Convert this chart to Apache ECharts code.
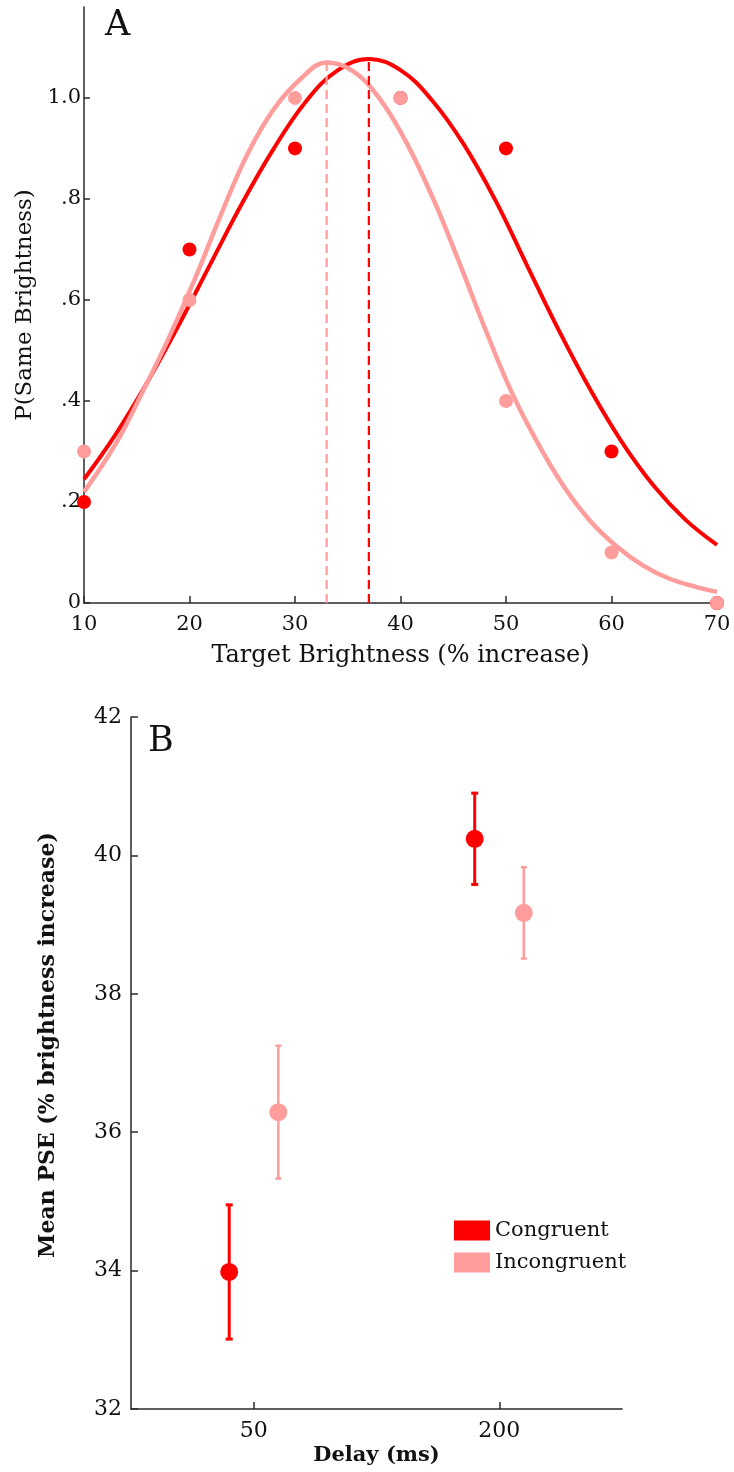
<!DOCTYPE html>
<html>
<head>
<meta charset="utf-8">
<script src="https://cdn.jsdelivr.net/npm/echarts@6/dist/echarts.min.js"></script>
<style>
  html, body { margin: 0; padding: 0; background: #fff; }
  #chart { width: 734px; height: 1472px; }
</style>
</head>
<body>
<div id="chart"></div>
<script>
// ---- Panel A: proportion of "same brightness" responses ----
const brightnessLevels = [10, 20, 30, 40, 50, 60, 70];
const congruentProp   = [0.2, 0.7, 0.9, 1.0, 0.9, 0.3, 0.0];
const incongruentProp = [0.3, 0.6, 1.0, 1.0, 0.4, 0.1, 0.0];

// fitted psychometric curves, sampled along the brightness axis (one sample on each peak)
const congruentFitX = [10, 13, 16, 19, 22, 25, 28, 31, 34, 37, 40, 43, 46, 49, 52, 55, 58, 61, 64, 67, 70];
const congruentFitY = [0.245, 0.334, 0.437, 0.551, 0.672, 0.792, 0.900, 0.992, 1.054, 1.077, 1.055, 0.995, 0.908, 0.797, 0.668, 0.540, 0.422, 0.318, 0.232, 0.165, 0.115];
const incongruentFitX = [10, 13, 15.5, 18, 20.5, 23, 25.5, 28, 30.5, 33, 35.5, 38, 40.5, 43, 45.5, 48, 50.5, 53, 55.5, 58, 60.5, 63, 65.5, 68, 70];
const incongruentFitY = [0.220, 0.315, 0.416, 0.523, 0.641, 0.770, 0.889, 0.978, 1.037, 1.070, 1.053, 0.999, 0.914, 0.805, 0.678, 0.544, 0.419, 0.317, 0.230, 0.162, 0.112, 0.074, 0.048, 0.032, 0.022];

// points of subjective equality (curve peaks)
const pseX   = [37, 33];        // congruent, incongruent
const pseTop = [1.077, 1.070];

const yTickValuesA = [0, 0.2, 0.4, 0.6, 0.8, 1.0];
const yTickLabelsA = ['0', '.2', '.4', '.6', '.8', '1.0'];

// ---- Panel B: mean PSE by delay ----
const delayLabels    = ['50', '200'];
const congruentPSE   = [33.98, 40.24];
const congruentSE    = [0.97, 0.66];
const incongruentPSE = [36.29, 39.17];
const incongruentSE  = [0.96, 0.66];

const RED = '#ff0000';
const PINK = '#ff9c9c';
const FONT = 'DejaVu Serif';
const AXIS_COLOR = '#2a2a2a';

const zip = (xs, ys) => xs.map((x, i) => [x, ys[i]]);

function errorBars(means, ses, offset) {
  return means.map((m, i) => [i + 1 + offset, m - ses[i], m + ses[i]]);
}
function meanPoints(means, offset) {
  return means.map((m, i) => [i + 1 + offset, m]);
}
function errorBarRender(color, width, capHalf) {
  return function (params, api) {
    const x = api.value(0);
    const lo = api.coord([x, api.value(1)]);
    const hi = api.coord([x, api.value(2)]);
    const style = { stroke: color, lineWidth: width };
    return {
      type: 'group',
      children: [
        { type: 'line', shape: { x1: lo[0], y1: lo[1], x2: hi[0], y2: hi[1] }, style: style },
        { type: 'line', shape: { x1: lo[0] - capHalf, y1: lo[1], x2: lo[0] + capHalf, y2: lo[1] }, style: style },
        { type: 'line', shape: { x1: hi[0] - capHalf, y1: hi[1], x2: hi[0] + capHalf, y2: hi[1] }, style: style }
      ]
    };
  };
}

const axisLine = { show: true, lineStyle: { color: AXIS_COLOR, width: 1.5 } };
const textBase = { fontFamily: FONT, color: '#111' };
const tickLine = { color: AXIS_COLOR, width: 1.5 };

const chart = echarts.init(document.getElementById('chart'), null, { renderer: 'canvas' });

chart.setOption({
  backgroundColor: '#fff',
  animation: false,
  title: [
    { text: 'A', left: 105, top: 8, padding: 0, textStyle: Object.assign({ fontSize: 35, fontWeight: 'normal' }, textBase) },
    { text: 'B', left: 148, top: 724, padding: 0, textStyle: Object.assign({ fontSize: 35, fontWeight: 'normal' }, textBase) }
  ],
  legend: {
    data: ['Congruent', 'Incongruent'],
    orient: 'vertical',
    left: 454,
    top: 1220,
    icon: 'rect',
    itemWidth: 36,
    itemHeight: 20,
    itemGap: 11,
    selectedMode: false,
    padding: 0,
    textStyle: Object.assign({ fontSize: 21 }, textBase)
  },
  grid: [
    { left: 84, right: 17, top: 7, bottom: 869 },
    { left: 131, right: 112, top: 717, bottom: 63 }
  ],
  xAxis: [
    {
      gridIndex: 0, type: 'value', min: 10, max: 70, interval: 10,
      name: 'Target Brightness (% increase)', nameLocation: 'middle', nameGap: 41,
      nameTextStyle: Object.assign({ fontSize: 24 }, textBase),
      axisLine: axisLine,
      axisTick: { inside: true, length: 7, lineStyle: tickLine },
      axisLabel: Object.assign({ margin: 11, fontSize: 21 }, textBase),
      splitLine: { show: false }
    },
    {
      gridIndex: 1, type: 'value', min: 0.5, max: 2.5,
      name: 'Delay (ms)', nameLocation: 'middle', nameGap: 36,
      nameTextStyle: Object.assign({ fontSize: 21, fontWeight: 'bold' }, textBase),
      axisLine: axisLine,
      axisTick: { inside: true, length: 7, customValues: [1, 2], lineStyle: tickLine },
      axisLabel: Object.assign({
        margin: 11, fontSize: 22, customValues: [1, 2],
        formatter: v => delayLabels[Math.round(v) - 1]
      }, textBase),
      splitLine: { show: false }
    }
  ],
  yAxis: [
    {
      gridIndex: 0, type: 'value', min: 0, max: 1.18,
      name: 'P(Same Brightness)', nameLocation: 'middle', nameGap: 44, nameRotate: 90,
      nameTextStyle: Object.assign({ fontSize: 23 }, textBase),
      axisLine: axisLine,
      axisTick: { inside: true, length: 6, customValues: yTickValuesA, lineStyle: tickLine },
      axisLabel: Object.assign({
        margin: 3, fontSize: 21, customValues: yTickValuesA,
        formatter: v => yTickLabelsA[yTickValuesA.findIndex(t => Math.abs(t - v) < 1e-6)]
      }, textBase),
      splitLine: { show: false }
    },
    {
      gridIndex: 1, type: 'value', min: 32, max: 42, interval: 2,
      name: 'Mean PSE (% brightness increase)', nameLocation: 'middle', nameGap: 72, nameRotate: 90,
      nameTextStyle: Object.assign({ fontSize: 22, fontWeight: 'bold', padding: [0, 0, 0, 36] }, textBase),
      axisLine: axisLine,
      axisTick: { inside: true, length: 7, lineStyle: tickLine },
      axisLabel: Object.assign({ margin: 9, fontSize: 22 }, textBase),
      splitLine: { show: false }
    }
  ],
  series: [
    // Panel A fitted curves
    {
      name: 'Congruent fit', type: 'line', xAxisIndex: 0, yAxisIndex: 0,
      data: zip(congruentFitX, congruentFitY), smooth: 0.4, showSymbol: false,
      lineStyle: { color: RED, width: 4 }, z: 2
    },
    {
      name: 'Incongruent fit', type: 'line', xAxisIndex: 0, yAxisIndex: 0,
      data: zip(incongruentFitX, incongruentFitY), smooth: 0.4, showSymbol: false,
      lineStyle: { color: PINK, width: 4.5 }, z: 3
    },
    // PSE markers
    {
      name: 'Congruent PSE', type: 'line', xAxisIndex: 0, yAxisIndex: 0,
      data: [[pseX[0], 0], [pseX[0], pseTop[0]]], showSymbol: false,
      lineStyle: { color: RED, width: 2.2, type: [9, 5] }, z: 4
    },
    {
      name: 'Incongruent PSE', type: 'line', xAxisIndex: 0, yAxisIndex: 0,
      data: [[pseX[1], 0], [pseX[1], pseTop[1]]], showSymbol: false,
      lineStyle: { color: PINK, width: 2.2, type: [9, 5] }, z: 4
    },
    // Panel A observed proportions
    {
      name: 'Congruent data', type: 'scatter', xAxisIndex: 0, yAxisIndex: 0,
      data: zip(brightnessLevels, congruentProp), symbol: 'circle', symbolSize: 14,
      itemStyle: { color: RED, opacity: 1 }, z: 5
    },
    {
      name: 'Incongruent data', type: 'scatter', xAxisIndex: 0, yAxisIndex: 0,
      data: zip(brightnessLevels, incongruentProp), symbol: 'circle', symbolSize: 14,
      itemStyle: { color: PINK, opacity: 1 }, z: 6
    },
    // Panel B error bars
    {
      name: 'Congruent SE', type: 'custom', xAxisIndex: 1, yAxisIndex: 1,
      data: errorBars(congruentPSE, congruentSE, -0.1),
      encode: { x: 0, y: [1, 2] },
      renderItem: errorBarRender(RED, 3, 3.5), z: 4
    },
    {
      name: 'Incongruent SE', type: 'custom', xAxisIndex: 1, yAxisIndex: 1,
      data: errorBars(incongruentPSE, incongruentSE, 0.1),
      encode: { x: 0, y: [1, 2] },
      renderItem: errorBarRender(PINK, 2.5, 3), z: 4
    },
    // Panel B means
    {
      name: 'Congruent', type: 'scatter', xAxisIndex: 1, yAxisIndex: 1,
      data: meanPoints(congruentPSE, -0.1), symbol: 'circle', symbolSize: 18,
      itemStyle: { color: RED, opacity: 1 }, z: 5
    },
    {
      name: 'Incongruent', type: 'scatter', xAxisIndex: 1, yAxisIndex: 1,
      data: meanPoints(incongruentPSE, 0.1), symbol: 'circle', symbolSize: 18,
      itemStyle: { color: PINK, opacity: 1 }, z: 5
    }
  ]
});
</script>
</body>
</html>
